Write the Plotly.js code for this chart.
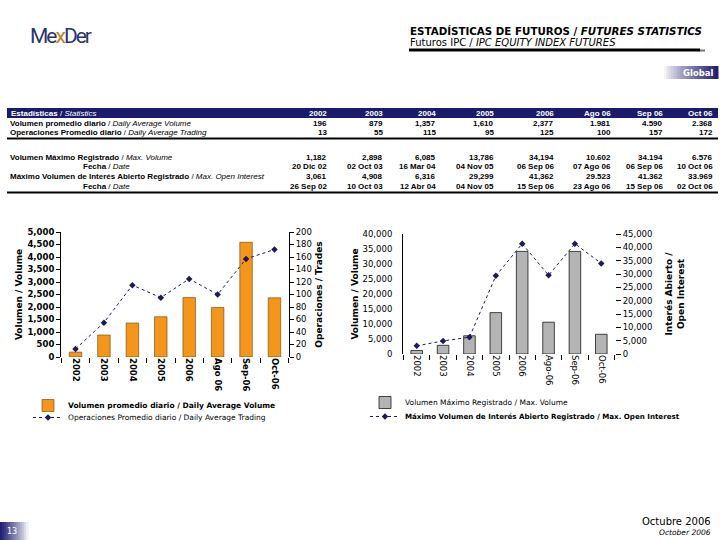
<!DOCTYPE html>
<html><head><meta charset="utf-8">
<script src="https://cdn.plot.ly/plotly-3.0.1.min.js"></script>
<style>html,body{margin:0;padding:0;background:#fff;overflow:hidden}</style>
</head><body><div id="chart" style="width:720px;height:540px"></div>
<script>
// ---------- data ----------
const periods = ['2002', '2003', '2004', '2005', '2006', 'Ago 06', 'Sep 06', 'Oct 06'];
const leftCats = ['2002', '2003', '2004', '2005', '2006', 'Ago 06', 'Sep-06', 'Oct-06'];
const rightCats = ['2002', '2003', '2004', '2005', '2006', 'Ago-06', 'Sep-06', 'Oct-06'];
const avgVolume = [196, 879, 1357, 1610, 2377, 1981, 4590, 2368];
const avgTrades = [13, 55, 115, 95, 125, 100, 157, 172];
const maxVolume = [1182, 2898, 6085, 13786, 34194, 10602, 34194, 6576];
const maxVolumeDate = ['20 Dic 02', '02 Oct 03', '16 Mar 04', '04 Nov 05', '06 Sep 06', '07 Ago 06', '06 Sep 06', '10 Oct 06'];
const maxOpenInterest = [3061, 4908, 6316, 29299, 41362, 29523, 41362, 33969];
const maxOpenInterestDate = ['26 Sep 02', '10 Oct 03', '12 Abr 04', '04 Nov 05', '15 Sep 06', '23 Ago 06', '15 Sep 06', '02 Oct 06'];
const thousandsSep = [',', ',', ',', ',', ',', '.', '.', '.'];
const rowLabels = [
  '<b>Volumen promedio diario</b> / <i>Daily Average Volume</i>',
  '<b>Operaciones Promedio diario</b> / <i>Daily Average Trading</i>',
  '<b>Volumen Máximo Registrado</b> / <i>Max. Volume</i>',
  '<b>Fecha</b> / <i>Date</i>',
  '<b>Máximo Volumen de Interés Abierto Registrado</b> / <i>Max. Open Interest</i>',
  '<b>Fecha</b> / <i>Date</i>'
];

// ---------- helpers ----------
const W = 720, H = 540;
const px = x => x / W;
const py = y => 1 - y / H;
const fmt = (v, s) => String(v).replace(/\B(?=(\d{3})+(?!\d))/g, s);
const NAVY = '#1b1b6e';
const LINE = '#1a1a5c';
const TABLEFONT = 'Liberation Sans, Arial, sans-serif';
const CHARTFONT = 'DejaVu Sans, Verdana, sans-serif';

// ---------- traces ----------
const traces = [
  {type: 'bar', x: leftCats, y: avgVolume, xaxis: 'x', yaxis: 'y',
   name: '<b>Volumen promedio diario / Daily Average Volume</b>',
   marker: {color: '#f5961c', line: {color: '#6b3d08', width: 0.6}}, legend: 'legend'},
  {type: 'scatter', mode: 'lines+markers', x: leftCats, y: avgTrades, xaxis: 'x', yaxis: 'y2',
   name: 'Operaciones Promedio diario / Daily Average Trading',
   line: {color: LINE, width: 1, dash: 'dot'}, marker: {color: LINE, symbol: 'diamond', size: 5}, legend: 'legend2'},
  {type: 'bar', x: rightCats, y: maxVolume, xaxis: 'x2', yaxis: 'y3',
   name: 'Volumen Máximo Registrado / Max. Volume',
   marker: {color: '#b4b4b4', line: {color: '#1a1a1a', width: 0.8}}, legend: 'legend3'},
  {type: 'scatter', mode: 'lines+markers', x: rightCats, y: maxOpenInterest, xaxis: 'x2', yaxis: 'y4',
   name: '<b>Máximo Volumen de Interés Abierto Registrado / Max. Open Interest</b>',
   line: {color: LINE, width: 1, dash: 'dot'}, marker: {color: LINE, symbol: 'diamond', size: 5}, legend: 'legend4'}
];

// ---------- shapes ----------
const shapes = [];
const annotations = [];
function gradient(x0, x1, y0, y1, fromWhite, n) {
  const c0 = [255, 255, 255], c1 = [27, 27, 110];
  for (let i = 0; i < n; i++) {
    let t = (i + 0.5) / n;
    if (!fromWhite) t = 1 - t;
    const c = c0.map((v, k) => Math.round(v + (c1[k] - v) * Math.pow(t, 0.8)));
    shapes.push({type: 'rect', xref: 'paper', yref: 'paper', layer: 'below',
      x0: px(x0 + (x1 - x0) * i / n), x1: px(x0 + (x1 - x0) * (i + 1) / n + 0.5),
      y0: py(y1), y1: py(y0), line: {width: 0}, fillcolor: 'rgb(' + c.join(',') + ')'});
  }
}
// header rule
shapes.push({type: 'line', xref: 'paper', yref: 'paper', x0: px(409), x1: px(700), y0: py(50), y1: py(50), line: {color: '#000', width: 3}});
shapes.push({type: 'line', xref: 'paper', yref: 'paper', x0: px(700), x1: px(705), y0: py(50.5), y1: py(50.5), line: {color: '#777', width: 2}});
gradient(664, 718, 66, 79, true, 24);
gradient(0, 28, 522, 540, false, 14);
// table header bar and rules
shapes.push({type: 'rect', xref: 'paper', yref: 'paper', x0: px(7), x1: px(718), y0: py(118), y1: py(108), line: {width: 0}, fillcolor: NAVY});
shapes.push({type: 'line', xref: 'paper', yref: 'paper', x0: px(7), x1: px(718), y0: py(138.5), y1: py(138.5), line: {color: '#000', width: 2}});
shapes.push({type: 'line', xref: 'paper', yref: 'paper', x0: px(7), x1: px(718), y0: py(192.5), y1: py(192.5), line: {color: '#000', width: 2}});

// ---------- header / footer text ----------
function ann(x, y, text, opts) {
  annotations.push(Object.assign({xref: 'paper', yref: 'paper', x: px(x), y: py(y), text: text, showarrow: false,
    xanchor: 'left', yanchor: 'middle'}, opts || {}));
}
ann(28, 36, '<span style="letter-spacing:-2px">Me<span style="color:#c0802a">x</span>Der</span>',
  {font: {family: 'Liberation Sans Narrow, Roboto, sans-serif', size: 21, color: '#2b3470'}});
ann(408, 31, '<b>ESTADÍSTICAS DE FUTUROS / <i>FUTURES STATISTICS</i></b>', {font: {family: CHARTFONT, size: 10.3, color: '#000'}});
ann(408, 43, 'Futuros IPC / <i>IPC EQUITY INDEX FUTURES</i>', {font: {family: CHARTFONT, size: 10, color: '#000'}});
ann(716, 72.5, '<b>Global</b>', {xanchor: 'right', font: {family: CHARTFONT, size: 8.5, color: '#fff'}});
ann(713, 521, 'Octubre 2006', {xanchor: 'right', font: {family: CHARTFONT, size: 10, color: '#000'}});
ann(713, 532, '<i>October 2006</i>', {xanchor: 'right', font: {family: CHARTFONT, size: 7.5, color: '#000'}});
ann(12, 531, '13', {xanchor: 'center', font: {family: CHARTFONT, size: 8, color: '#fff'}});

// ---------- table text ----------
const colRight = [329, 385, 438, 496, 556, 613, 665, 715];
const rowY = [123.5, 133, 157, 166.5, 176, 186];
const tf = (size, color) => ({family: TABLEFONT, size: size, color: color});
ann(9, 113, '<b>Estadísticas</b> / <i>Statistics</i>', {font: tf(8, '#fff')});
periods.forEach((p, i) => ann(colRight[i], 113, '<b>' + p + '</b>', {xanchor: 'right', font: tf(8, '#fff')}));
const labelX = [8, 8, 8, 81, 8, 81];
rowLabels.forEach((t, r) => ann(labelX[r], rowY[r], t, {font: tf(8, '#000')}));
const rows = [
  avgVolume.map((v, i) => fmt(v, thousandsSep[i])),
  avgTrades.map((v, i) => fmt(v, thousandsSep[i])),
  maxVolume.map((v, i) => fmt(v, thousandsSep[i])),
  maxVolumeDate,
  maxOpenInterest.map((v, i) => fmt(v, thousandsSep[i])),
  maxOpenInterestDate
];
rows.forEach((vals, r) => vals.forEach((v, i) =>
  ann(colRight[i], rowY[r], '<b>' + v + '</b>', {xanchor: 'right', font: tf(8, '#000')})));

// ---------- layout ----------
const tickFontB = {family: CHARTFONT, size: 8.5, color: '#000', weight: 'bold'};
const tickFont = {family: CHARTFONT, size: 8.5, color: '#000'};
const titleFontB = {family: CHARTFONT, size: 9, color: '#000', weight: 'bold'};
const legendBase = {xanchor: 'left', yanchor: 'top', bgcolor: 'rgba(0,0,0,0)', tracegroupgap: 0, itemwidth: 30};
const legFont = {family: CHARTFONT, size: 7.5, color: '#000'};
const layout = {
  width: W, height: H, margin: {l: 0, r: 0, t: 0, b: 0},
  paper_bgcolor: '#fff', plot_bgcolor: 'rgba(0,0,0,0)',
  font: {family: CHARTFONT, color: '#000'},
  bargap: 0.56,
  showlegend: true,
  xaxis: {domain: [px(61), px(289)], anchor: 'y', type: 'category', tickson: 'boundaries', ticks: 'outside',
    ticklen: 5, tickcolor: '#000', tickangle: 90, tickfont: tickFontB, showgrid: false, zeroline: false,
    showline: false, fixedrange: true},
  yaxis: {domain: [py(357), py(232)], anchor: 'x', range: [0, 5000], dtick: 500, tickformat: ',d',
    ticks: 'outside', ticklen: 4, tickcolor: '#000', showline: true, linecolor: '#000', linewidth: 1,
    showgrid: false, zeroline: false, tickfont: tickFontB,
    title: {text: 'Volumen / Volume', font: titleFontB, standoff: 3}},
  yaxis2: {overlaying: 'y', side: 'right', anchor: 'x', range: [0, 200], dtick: 20, ticks: 'outside',
    ticklen: 4, tickcolor: '#000', showline: true, linecolor: '#000', linewidth: 1, showgrid: false,
    zeroline: false, tickfont: tickFont, title: {text: 'Operaciones / Trades', font: titleFontB, standoff: 4}},
  xaxis2: {domain: [px(403), px(615)], anchor: 'y3', type: 'category', tickson: 'boundaries', ticks: 'outside',
    ticklen: 5, tickcolor: '#000', tickangle: 90, tickfont: tickFont, showgrid: false, zeroline: false,
    showline: false, fixedrange: true},
  yaxis3: {domain: [py(354), py(234)], anchor: 'x2', range: [0, 40000], dtick: 5000, tickformat: ',d',
    ticks: '', ticklabelstandoff: 8, showline: true, linecolor: '#000', linewidth: 1, showgrid: false,
    zeroline: false, tickfont: tickFont, title: {text: 'Volumen / Volume', font: titleFontB, standoff: 2}},
  yaxis4: {overlaying: 'y3', side: 'right', anchor: 'x2', range: [0, 45000], dtick: 5000, tickformat: ',d',
    ticks: 'outside', ticklen: 5, tickcolor: '#000', showline: false, showgrid: false, zeroline: false,
    tickfont: tickFont, title: {text: 'Interés Abierto /<br>Open Interest', font: titleFontB, standoff: 14}},
  legend: Object.assign({x: px(28), y: py(391), font: legFont}, legendBase),
  legend2: Object.assign({x: px(28), y: py(403), font: legFont}, legendBase),
  legend3: Object.assign({x: px(365), y: py(388), font: legFont}, legendBase),
  legend4: Object.assign({x: px(365), y: py(402), font: Object.assign({}, legFont, {size: 7.1})}, legendBase),
  shapes: shapes,
  annotations: annotations
};

Plotly.newPlot('chart', traces, layout, {staticPlot: true, displayModeBar: false});
</script>
</body></html>
